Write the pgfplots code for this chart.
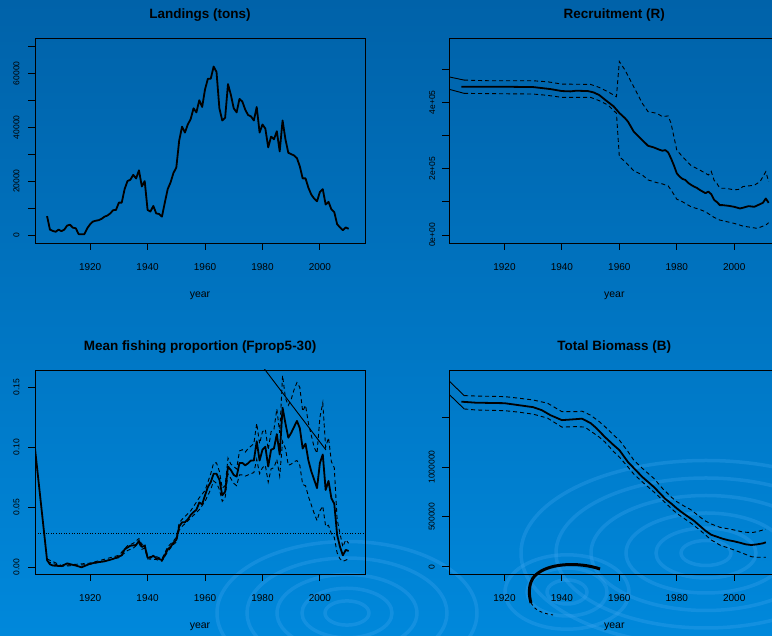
\documentclass[border=0pt]{standalone}
\usepackage{fontspec}
\setmainfont{Liberation Sans}
\usepackage{pgfplots}
\pgfplotsset{compat=1.18}
\definecolor{bgtop}{HTML}{0062A9}
\definecolor{bgmid}{HTML}{0068B1}
\definecolor{bgbot}{HTML}{0088DB}
\definecolor{ripple}{HTML}{3FA6F0}
\pgfplotsset{
  every axis title shift=0pt,
  rstyle/.style={
    scale only axis, width=330pt,
    xmin=1900.8, xmax=2015.7,
    axis line style={line width=0.9pt, black},
    tick align=outside,
    tick pos=left,
    major tick length=7pt,
    tick style={line width=0.9pt, black},
    xtick={1920,1940,1960,1980,2000},
    xticklabels={1920,1940,1960,1980,2000},
    scaled x ticks=false, scaled y ticks=false,
    xticklabel style={font=\fontsize{10}{12}\selectfont, anchor=north, inner sep=0pt, yshift=-13.4pt},
    yticklabel style={font=\fontsize{8.5}{10}\selectfont, rotate=90, anchor=south, inner sep=0pt, outer ysep=8.5pt},
    title style={font=\fontsize{13.5}{16}\selectfont\bfseries, at={(axis description cs:0.5,1)}, anchor=center, yshift=23pt},
    xlabel=year,
    xlabel style={font=\fontsize{10.5}{12}\selectfont, at={(axis description cs:0.5,0)}, anchor=center, yshift=-53pt},
    minor tick num=0,
    clip=true,
  },
  cen/.style={black, line width=1.8pt, line join=round},
  ci/.style={black, line width=0.9pt, dash pattern=on 4pt off 3pt},
  cis/.style={black, line width=0.9pt},
}
\begin{document}
\begin{tikzpicture}[x=1pt,y=1pt]
\useasboundingbox (0,0) rectangle (772,636);
\clip (0,0) rectangle (772,636);
\shade[top color=bgtop, middle color=bgmid, bottom color=bgbot] (0,0) rectangle (772,636);
% ripples (decoration)
\begin{scope}[draw=ripple, opacity=0.3, line width=3.5pt]
\foreach \r in {22,45,70,100,130} {\draw (347,23) ellipse ({\r} and {0.55*\r});}
\foreach \r in {25,50,80,115,150,185} {\draw (706,83) ellipse ({\r} and {0.5*\r});}
\foreach \r in {20,40,62} {\draw (567,44) ellipse ({\r} and {0.6*\r});}
\end{scope}

% Panel 1: Landings
\begin{axis}[rstyle, at={(35pt,393pt)}, anchor=south west, height=205pt,
  ymin=-2970, ymax=73100,
  ytick={0,10000,20000,30000,40000,50000,60000,70000},
  yticklabels={0,,20000,,40000,,60000,},
  title={Landings (tons)}]
\addplot[cen] coordinates {
(1905,7000)(1906,2000)(1907,1500)(1908,1200)(1909,2000)(1910,1400)(1911,2000)(1912,3500)(1913,3800)(1914,2700)(1915,2500)(1916,300)(1917,300)(1918,300)(1919,2500)(1920,4000)(1921,5000)(1922,5300)(1923,5500)(1924,6000)(1925,6800)(1926,7200)(1927,8000)(1928,9200)(1929,9300)(1930,12000)(1931,12000)(1932,17000)(1933,20000)(1934,20500)(1935,22300)(1936,21000)(1937,24000)(1938,18000)(1939,20000)(1940,9300)(1941,8700)(1942,10800)(1943,8000)(1944,7800)(1945,6800)(1946,12000)(1947,17000)(1948,19500)(1949,23000)(1950,25000)(1951,35000)(1952,40200)(1953,38000)(1954,41000)(1955,43000)(1956,47000)(1957,45500)(1958,50000)(1959,47500)(1960,54000)(1961,58000)(1962,58000)(1963,62500)(1964,60500)(1965,47000)(1966,42500)(1967,43500)(1968,56000)(1969,52000)(1970,47000)(1971,45500)(1972,50500)(1973,49500)(1974,46500)(1975,44500)(1976,44000)(1977,42500)(1978,47500)(1979,38000)(1980,41000)(1981,39500)(1982,32500)(1983,36500)(1984,35500)(1985,38500)(1986,31000)(1987,42500)(1988,35500)(1989,30500)(1990,30000)(1991,29500)(1992,28500)(1993,25500)(1994,21000)(1995,21000)(1996,17500)(1997,15000)(1998,13500)(1999,12500)(2000,16000)(2001,17000)(2002,11300)(2003,12300)(2004,9500)(2005,8500)(2006,4000)(2007,2800)(2008,1800)(2009,2800)(2010,2300)
};
\end{axis}

% Panel 2: Recruitment
\begin{axis}[rstyle, at={(449.3pt,393pt)}, anchor=south west, height=205pt,
  ymin=-24100, ymax=594000,
  ytick={0,100000,200000,300000,400000,500000},
  yticklabels={0e+00,,2e+05,,4e+05,},
  yticklabel style={outer ysep=7pt},
  title={Recruitment (R)}]
\addplot[cis] coordinates {(1900,478000)(1906,467000)};
\addplot[cis] coordinates {(1900,441000)(1906,427000)};
\addplot[ci] coordinates {
(1906,467000)(1915,465000)(1930,465000)(1935,462000)(1940,455000)(1950,454000)(1953,445000)(1956,432000)(1959,417000)(1960,523000)(1961,510000)(1962,497000)(1965,447000)(1968,397000)(1970,372000)(1973,367000)(1975,357000)(1977,359000)(1978,337000)(1980,256000)(1982,236000)(1985,209000)(1988,196000)(1990,186000)(1991,181000)(1992,192000)(1993,165000)(1994,155000)(1995,141000)(1997,141000)(2000,136000)(2002,138000)(2003,146000)(2007,150000)(2009,161000)(2011,191000)(2012,161000)
};
\addplot[ci] coordinates {
(1906,427000)(1930,425000)(1935,421000)(1940,415000)(1950,415000)(1953,405000)(1956,392000)(1959,367000)(1960,236000)(1962,221000)(1965,194000)(1968,181000)(1970,166000)(1973,158000)(1975,154000)(1977,148000)(1978,136000)(1980,108000)(1982,100000)(1985,85000)(1988,77000)(1990,70000)(1993,53000)(1995,45000)(2000,35000)(2003,27000)(2008,20000)(2011,30000)(2012,37000)
};
\addplot[cen] coordinates {
(1905,447000)(1910,447000)(1920,447000)(1930,446000)(1933,443000)(1936,440000)(1940,434000)(1943,433000)(1945,435000)(1949,434000)(1951,430000)(1953,422000)(1955,408000)(1958,388000)(1960,368000)(1962,352000)(1963,342000)(1965,312000)(1966,303000)(1968,286000)(1970,269000)(1972,264000)(1974,257000)(1975,254000)(1976,256000)(1977,249000)(1978,231000)(1979,210000)(1980,186000)(1981,176000)(1982,169000)(1983,166000)(1984,157000)(1985,151000)(1986,146000)(1987,142000)(1988,136000)(1989,131000)(1990,126000)(1991,131000)(1992,123000)(1993,106000)(1994,99000)(1995,90000)(1996,90000)(1997,89000)(1998,88000)(2000,85000)(2002,80000)(2003,82000)(2005,87000)(2007,85000)(2009,93000)(2010,97000)(2011,110000)(2012,97000)
};
\end{axis}

% Panel 3: Fprop
\begin{axis}[rstyle, at={(35pt,62pt)}, anchor=south west, height=204pt,
  ymin=-0.00556, ymax=0.16444,
  ytick={0,0.05,0.10,0.15},
  yticklabels={0.00,0.05,0.10,0.15},
  title={Mean fishing proportion (Fprop5-30)}]
\addplot[black, line width=1pt, dash pattern=on 1pt off 1.6pt] coordinates {(1890,0.0283)(2020,0.0283)};
\addplot[cis] coordinates {(1975,0.1832)(2002.1,0.0978)};
\addplot[ci] coordinates {
(1905,0.007)(1910,0.0015)(1920,0.0035)(1930,0.010)(1933,0.018)(1935,0.020)(1937,0.024)(1938,0.019)(1939,0.020)(1940,0.009)(1943,0.009)(1945,0.007)(1947,0.017)(1949,0.022)(1950,0.025)(1951,0.037)(1952,0.040)(1955,0.047)(1958,0.058)(1960,0.064)(1962,0.078)(1963,0.087)(1964,0.087)(1965,0.080)(1966,0.066)(1967,0.068)(1968,0.091)(1969,0.086)(1970,0.084)(1971,0.082)(1972,0.097)(1973,0.098)(1974,0.096)(1975,0.099)(1976,0.101)(1977,0.103)(1978,0.120)(1979,0.103)(1980,0.113)(1981,0.115)(1982,0.098)(1983,0.113)(1984,0.115)(1985,0.132)(1986,0.112)(1987,0.160)(1988,0.141)(1989,0.135)(1990,0.140)(1991,0.148)(1992,0.154)(1993,0.150)(1994,0.130)(1995,0.135)(1996,0.120)(1997,0.110)(1998,0.100)(1999,0.095)(2000,0.125)(2001,0.137)(2002,0.100)(2003,0.108)(2004,0.088)(2005,0.083)(2006,0.040)(2007,0.028)(2008,0.017)(2009,0.023)(2010,0.020)
};
\addplot[ci] coordinates {
(1905,0.005)(1910,0.0008)(1920,0.0025)(1930,0.008)(1933,0.014)(1935,0.016)(1937,0.020)(1938,0.015)(1939,0.016)(1940,0.007)(1943,0.0065)(1945,0.005)(1947,0.013)(1949,0.019)(1950,0.021)(1951,0.031)(1952,0.034)(1955,0.041)(1958,0.048)(1960,0.055)(1962,0.065)(1963,0.072)(1964,0.070)(1965,0.065)(1966,0.055)(1967,0.058)(1968,0.078)(1969,0.074)(1970,0.070)(1971,0.068)(1972,0.077)(1973,0.077)(1974,0.076)(1975,0.077)(1976,0.078)(1977,0.079)(1978,0.090)(1979,0.078)(1980,0.083)(1981,0.085)(1982,0.071)(1983,0.082)(1984,0.083)(1985,0.090)(1986,0.076)(1987,0.105)(1988,0.099)(1989,0.085)(1990,0.086)(1991,0.088)(1992,0.089)(1993,0.085)(1994,0.069)(1995,0.068)(1996,0.059)(1997,0.052)(1998,0.045)(1999,0.039)(2000,0.047)(2001,0.051)(2002,0.034)(2003,0.035)(2004,0.028)(2005,0.025)(2006,0.012)(2007,0.007)(2008,0.005)(2009,0.006)(2010,0.007)
};
\addplot[cen] coordinates {
(1900.8,0.099)(1905,0.006)(1906,0.0025)(1907,0.0015)(1910,0.001)(1912,0.0033)(1914,0.002)(1915,0.0015)(1917,0.0)(1920,0.003)(1922,0.004)(1925,0.005)(1928,0.007)(1930,0.009)(1931,0.010)(1932,0.015)(1934,0.018)(1936,0.0186)(1937,0.022)(1938,0.017)(1939,0.018)(1940,0.008)(1941,0.008)(1942,0.0097)(1943,0.0075)(1944,0.007)(1945,0.006)(1946,0.010)(1947,0.015)(1948,0.017)(1949,0.0205)(1950,0.023)(1951,0.034)(1952,0.0375)(1953,0.0375)(1954,0.040)(1955,0.0436)(1956,0.046)(1957,0.048)(1958,0.054)(1959,0.0525)(1960,0.060)(1961,0.067)(1962,0.071)(1963,0.078)(1964,0.078)(1965,0.073)(1966,0.060)(1967,0.063)(1968,0.084)(1969,0.081)(1970,0.077)(1971,0.0756)(1972,0.087)(1973,0.087)(1974,0.085)(1975,0.0867)(1976,0.089)(1977,0.089)(1978,0.105)(1979,0.089)(1980,0.098)(1981,0.1005)(1982,0.084)(1983,0.098)(1984,0.099)(1985,0.111)(1986,0.094)(1987,0.133)(1988,0.120)(1989,0.108)(1990,0.112)(1991,0.117)(1992,0.122)(1993,0.116)(1994,0.099)(1995,0.103)(1996,0.089)(1997,0.080)(1998,0.073)(1999,0.066)(2000,0.087)(2001,0.094)(2002,0.0645)(2003,0.072)(2004,0.0575)(2005,0.053)(2006,0.027)(2007,0.017)(2008,0.010)(2009,0.0145)(2010,0.0136)
};
\end{axis}

% Panel 4: Total Biomass
\begin{axis}[rstyle, at={(449.3pt,62pt)}, anchor=south west, height=204pt,
  ymin=-73600, ymax=1973000,
  ytick={0,500000,1000000,1500000},
  yticklabels={0,500000,1000000,},
  yticklabel style={outer ysep=7.5pt},
  title={Total Biomass (B)}]
\addplot[cis] coordinates {(1900,1883000)(1906,1716000)};
\addplot[cis] coordinates {(1900,1749000)(1906,1582000)};
\addplot[ci] coordinates {
(1906,1716000)(1910,1712000)(1920,1706000)(1925,1690000)(1930,1672000)(1935,1640000)(1940,1555000)(1945,1555000)(1947,1560000)(1950,1520000)(1953,1455000)(1955,1405000)(1958,1320000)(1960,1270000)(1963,1155000)(1965,1070000)(1968,987000)(1970,936000)(1972,886000)(1975,786000)(1978,700000)(1980,652000)(1983,600000)(1985,570000)(1988,500000)(1990,458000)(1992,428000)(1995,395000)(2000,368000)(2003,348000)(2006,341000)(2008,351000)(2010,368000)(2011,375000)
};
\addplot[ci] coordinates {
(1906,1582000)(1910,1572000)(1920,1565000)(1925,1550000)(1930,1530000)(1935,1490000)(1940,1400000)(1945,1405000)(1948,1400000)(1950,1360000)(1953,1300000)(1955,1250000)(1958,1155000)(1960,1100000)(1963,1000000)(1965,930000)(1968,850000)(1970,800000)(1972,750000)(1975,670000)(1978,585000)(1980,535000)(1983,475000)(1985,435000)(1988,368000)(1990,318000)(1992,268000)(1995,217000)(2000,167000)(2003,134000)(2006,100000)(2008,94000)(2011,94000)
};
\addplot[cen] coordinates {
(1905,1655000)(1910,1645000)(1920,1640000)(1925,1620000)(1930,1600000)(1933,1570000)(1936,1520000)(1940,1470000)(1945,1480000)(1947,1485000)(1950,1440000)(1952,1390000)(1955,1300000)(1958,1220000)(1960,1170000)(1963,1050000)(1965,990000)(1968,900000)(1970,850000)(1972,800000)(1974,740000)(1976,680000)(1978,635000)(1980,585000)(1982,540000)(1984,500000)(1986,460000)(1988,410000)(1990,360000)(1992,320000)(1994,300000)(1996,280000)(1998,265000)(2000,254000)(2002,240000)(2004,224000)(2006,217000)(2008,224000)(2010,234000)(2011,244000)
};
\end{axis}

% rendering artefact (black crescent) seen in the reference
\draw[black, line width=3pt] (600,67) .. controls (580,74) and (545,74) .. (533,58) .. controls (528,50) and (529,40) .. (531,33);
\draw[black, line width=0.9pt, dash pattern=on 3pt off 3pt] (531,33) .. controls (534,27) and (540,23) .. (553,21);
\end{tikzpicture}
\end{document}
